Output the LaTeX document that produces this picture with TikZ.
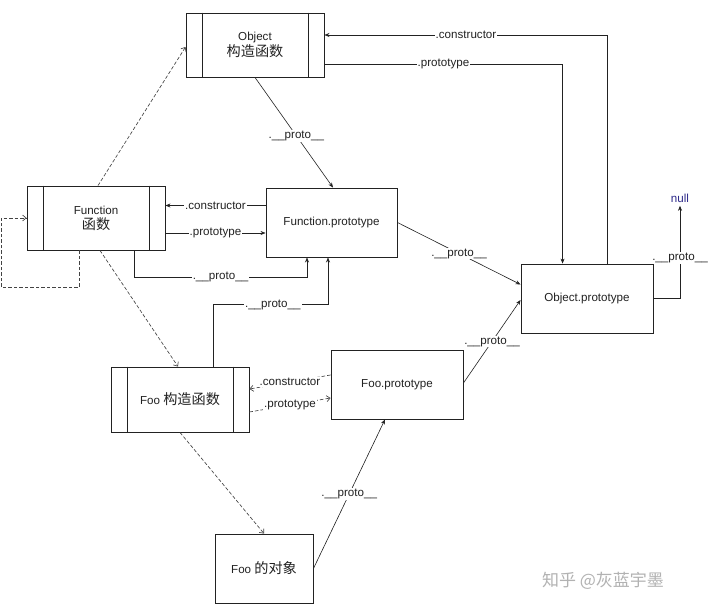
\documentclass[tikz,border=0pt]{standalone}
\usepackage{fontspec}
\setmainfont{Liberation Sans}
\newfontfamily\cjk[Scale=1.22]{Noto Sans CJK SC}
\newfontfamily\cjkwm{Noto Sans CJK SC}
\usetikzlibrary{arrows.meta}
\definecolor{ink}{HTML}{222222}
\definecolor{nullblue}{HTML}{2E2A8A}
\begin{document}
\begin{tikzpicture}[x=1pt,y=-1pt,
  every node/.style={font=\fontsize{11.6pt}{14pt}\selectfont, text=ink},
  ctorbox/.style={draw=ink, line width=0.9pt, minimum width=138pt, minimum height=64pt, inner sep=0pt, align=center},
  protobox/.style={draw=ink, line width=0.9pt, minimum width=132pt, minimum height=69pt, inner sep=0pt, align=center},
  arr/.style={draw=ink, line width=0.6pt, -{Stealth[length=5pt,width=4pt]}},
  dsh/.style={draw=ink!85, line width=0.65pt, dash pattern=on 3.5pt off 2pt, -{Straight Barb[length=3.5pt,width=6pt]}},
  lbl/.style={fill=white, inner sep=1pt}
]
\useasboundingbox (0,0) rectangle (720,610);
\fill[white] (0,0) rectangle (720,610);

% boxes
\node[ctorbox] (octor) at (255,45) {Object\\[1pt]{\cjk 构造函数}};
\node[ctorbox] (fn) at (96,218) {Function\\[1pt]{\cjk 函数}};
\node[ctorbox, minimum height=65pt] (fooc) at (180,399.5) {Foo {\cjk 构造函数}};
\node[protobox, minimum width=131pt] (fpr) at (331.5,222.5) {Function.prototype};
\node[protobox] (opr) at (587,298.5) {Object.prototype};
\node[protobox] (foopr) at (397,384.5) {Foo.prototype};
\node[protobox, minimum width=98pt] (fooobj) at (264,568.5) {Foo {\cjk 的对象}};
\node[text=nullblue] (null) at (680,198) {null};

% inner lines of constructor boxes
\foreach \b in {octor,fn,fooc}{
  \draw[ink, line width=0.9pt] ([xshift=17pt]\b.north west) -- ([xshift=17pt]\b.south west);
  \draw[ink, line width=0.9pt] ([xshift=-16pt]\b.north east) -- ([xshift=-16pt]\b.south east);
}

% Object.prototype -> Object constructor
\draw[arr] ([xshift=87pt]opr.north west) |- node[lbl,pos=0.75]{.constructor} ([yshift=10pt]octor.east);
% Object constructor -> Object.prototype
\draw[arr] ([yshift=-19pt]octor.east) -| node[lbl,pos=0.25]{.prototype} ([xshift=42pt]opr.north west);
% Object constructor __proto__
\draw[arr] (octor.south) -- node[lbl,pos=0.53]{.\_\_proto\_\_} ([xshift=1.5pt]fpr.north);
% Function -> Object constructor (dashed)
\draw[dsh] ([xshift=2pt]fn.north) -- ([yshift=-2pt]octor.west);
% Function self loop (dashed)
\coordinate (loop) at (1,218);
\draw[dsh] ([xshift=-17pt]fn.south) -- ++(0,37) -| (loop) -- (fn.west);
% Function.prototype constructor
\draw[arr] ([yshift=17pt]fpr.west) -- node[lbl]{.constructor} ([yshift=17pt]fpr.west -| fn.east);
% Function prototype
\draw[arr] ([yshift=-10.5pt]fpr.west -| fn.east) -- node[lbl]{.prototype} ([yshift=-10.5pt]fpr.west);
% Function __proto__
\draw[arr] ([xshift=38pt]fn.south) -- ++(0,27) -| node[lbl,pos=0.25]{.\_\_proto\_\_} ([xshift=-24.5pt]fpr.south);
% Foo constructor __proto__
\draw[arr] ([xshift=33pt]fooc.north) -- ++(0,-62) -| node[lbl,pos=0.26]{.\_\_proto\_\_} ([xshift=-3.5pt]fpr.south);
% Function.prototype __proto__
\draw[arr] (fpr.east) -- node[lbl]{.\_\_proto\_\_} ([yshift=14pt]opr.west);
% Object.prototype __proto__ -> null
\draw[arr] (opr.east) -| node[lbl,pos=0.72]{.\_\_proto\_\_} (null.south);
% Foo.prototype __proto__
\draw[arr] ([yshift=1.5pt]foopr.east) -- node[lbl]{.\_\_proto\_\_} ([yshift=-1.5pt]opr.west);
% Function -> Foo constructor (dashed)
\draw[dsh] ([xshift=4pt]fn.south) -- ([xshift=-2pt]fooc.north);
% Foo constructor / prototype (dashed)
\draw[dsh] ([yshift=9.5pt]foopr.west) -- node[lbl]{.constructor} ([yshift=10.5pt]fooc.east);
\draw[dsh] ([yshift=-12.5pt]fooc.east) -- node[lbl]{.prototype} ([yshift=-13.5pt]foopr.west);
% Foo constructor -> Foo object (dashed)
\draw[dsh] (fooc.south) -- (fooobj.north);
% Foo object __proto__
\draw[arr] (fooobj.east) -- node[lbl]{.\_\_proto\_\_} ([xshift=-12pt]foopr.south);

% watermark
\node[text=black!30, font=\cjkwm\fontsize{17pt}{20pt}\selectfont] (wm) at (603,581) {知乎 @灰蓝宇墨};
\end{tikzpicture}
\end{document}
